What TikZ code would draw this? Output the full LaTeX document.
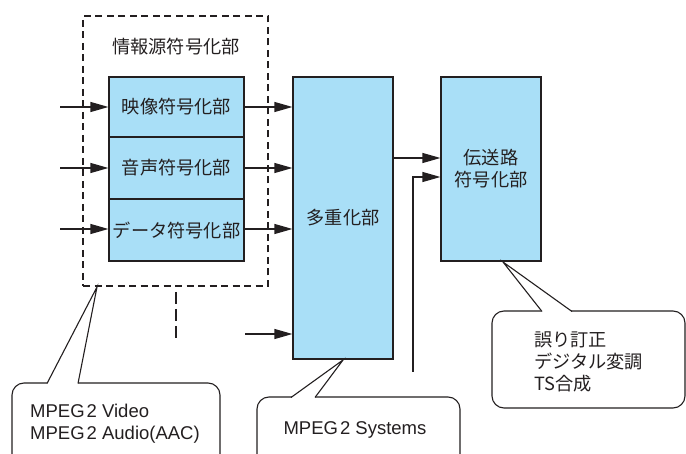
\documentclass[tikz,border=0pt]{standalone}
\usepackage{fontspec}
\setmainfont{Liberation Sans}
\newfontfamily\jp{Noto Sans CJK JP}
\usetikzlibrary{arrows.meta}
\definecolor{ink}{HTML}{231F20}
\definecolor{boxblue}{HTML}{A9DFF7}
\tikzset{
  blk/.style={draw=ink, line width=1.2pt, fill=boxblue, inner sep=0pt, text=ink,
              font=\jp\fontsize{18.2}{22}\selectfont, align=center},
  arr/.style={draw=ink, line width=1.2pt, -{Triangle[length=18pt,width=10pt]}},
  ln/.style={draw=ink, line width=1.2pt},
  callout/.style={draw=ink, line width=1.1pt, rounded corners=12pt, fill=white, inner sep=0pt},
  jtxt/.style={text=ink, font=\jp\fontsize{18.2}{22}\selectfont, inner sep=0pt},
  ltxt/.style={text=ink, font=\fontsize{18.5}{22}\selectfont, inner sep=0pt},
}
\begin{document}
\begin{tikzpicture}[x=1pt,y=-1pt]
\useasboundingbox (0,0) rectangle (686,454);
% source coding dashed group
\node[draw=ink, line width=1.1pt, dash pattern=on 7pt off 4.5pt, minimum width=185pt, minimum height=270pt, inner sep=0pt] (src) at (175.5,151) {};
\node[jtxt] (srct) at (176,47) {情報源符号化部};
\node[blk, minimum width=135pt, minimum height=60pt] (vid) at (176.5,107) {映像符号化部};
\node[blk, minimum width=135pt, minimum height=62pt] (aud) at (176.5,168) {音声符号化部};
\node[blk, minimum width=135pt, minimum height=62pt] (dat) at (176.5,230) {データ符号化部};
\node[blk, minimum width=100pt, minimum height=282pt] (mux) at (343,218) {多重化部};
\node[blk, minimum width=100pt, minimum height=184pt] (tx) at (491,169) {伝送路\\符号化部};
% inputs
\coordinate (iv) at (60,107);
\coordinate (ia) at (60,168);
\coordinate (id) at (60,229);
\draw[arr] (iv) -- (iv -| vid.west);
\draw[arr] (ia) -- (ia -| aud.west);
\draw[arr] (id) -- (id -| dat.west);
% to mux
\draw[arr] (vid.east) -- (vid.east -| mux.west);
\draw[arr] (aud.east) -- (aud.east -| mux.west);
\draw[arr] (dat.east |- 0,229) -- (mux.west |- 0,229);
\coordinate (im) at (245,334);
\draw[arr] (im) -- (im -| mux.west);
% dashed continuation
\coordinate (d1) at (176,292);
\coordinate (d2) at (176,341);
\draw[ink, line width=1.8pt, dash pattern=on 12pt off 5pt] (d1) -- (d2);
% mux to tx
\coordinate (m1) at (393,158);
\draw[arr] (m1) -- (m1 -| tx.west);
\coordinate (e1) at (413,372);
\coordinate (e2) at (413,177);
\draw[arr] (e1) -- (e2) -- (e2 -| tx.west);
% callout 1
\node[callout, minimum width=208pt, minimum height=90pt] (c1) at (116,428) {};
\fill[white] (47,384) -- (97,287) -- (78,384) -- cycle;
\draw[ln, line width=1.1pt] (47,383.5) -- (97,287) -- (78,383.5);
\node[ltxt, anchor=base west] (c1a) at (30,418) {MPEG\kern2pt 2 Video};
\node[ltxt, anchor=base west] (c1b) at (30,440) {MPEG\kern2pt 2 Audio(AAC)};
% callout 2
\node[callout, minimum width=203pt, minimum height=80pt] (c2) at (358.5,437) {};
\fill[white] (291,398) -- (343,360) -- (315,398) -- cycle;
\draw[ln, line width=1.1pt] (291,397.5) -- (343,360) -- (315,397.5);
\node[ltxt, anchor=base] (c2a) at (355,435) {MPEG\kern2pt 2 Systems};
% callout 3
\node[callout, minimum width=193pt, minimum height=97pt] (c3) at (588.5,359.5) {};
\fill[white] (542,312) -- (503,262) -- (572,312) -- cycle;
\draw[ln, line width=1.1pt] (542,311.5) -- (503,262) -- (572,311.5);
\node[jtxt, anchor=west] (c3a) at (534,340) {誤り訂正};
\node[jtxt, anchor=west] (c3b) at (534,361.5) {デジタル変調};
\node[jtxt, anchor=west] (c3c) at (534,384) {TS合成};
\end{tikzpicture}
\end{document}
